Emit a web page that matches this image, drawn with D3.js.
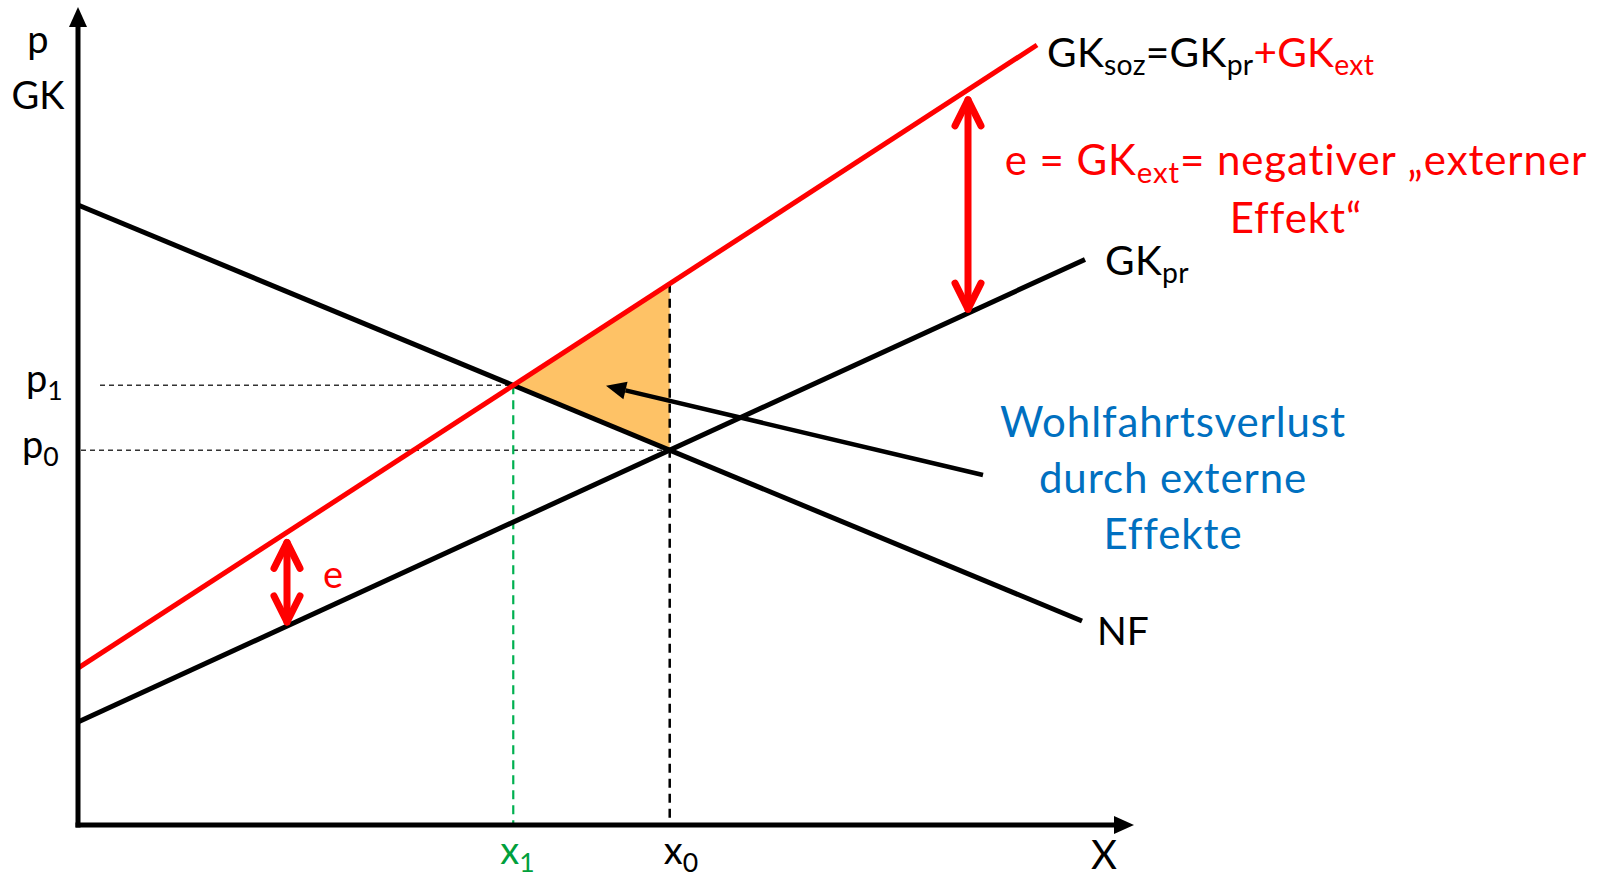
<!DOCTYPE html>
<html>
<head>
<meta charset="utf-8">
<script src="https://cdn.jsdelivr.net/npm/d3@7"></script>
<style>
  html, body { margin: 0; padding: 0; background: #ffffff; }
  svg { display: block; }
  text { font-family: Lato, "Open Sans", sans-serif; }
</style>
</head>
<body>
<svg id="chart" width="1602" height="878"></svg>
<script>
// ---- data (in abstract model units: quantity x, price/cost y) ----
const curveNames = ["NF", "GKpr", "GKsoz"];
const nfLine    = [[0, 77.5], [100.4, 25.5]];
const gkprLine  = [[0, 12.875], [100.7, 70.7]];
const gksozLine = [[0, 19.6], [95.9, 97.5]];
const externalityArrowX = [20.9, 89.0];   // positions of the red "e" arrows
const pointerTail = [90.5, 43.75];         // black arrow pointing into the welfare-loss area
const pointerTip  = [52.8, 54.9];
const yTickLabels = ["p1", "p0"];
const xTickLabels = ["x1", "x0"];

// ---- scales ----
const x = d3.scaleLinear().domain([0, 100]).range([78, 1078]);
const y = d3.scaleLinear().domain([0, 100]).range([825, 25]);

const svg = d3.select("#chart");

function lineAt(seg, xv) {
  const [[x0, y0], [x1, y1]] = seg;
  return y0 + (y1 - y0) * (xv - x0) / (x1 - x0);
}
function intersect(a, b) {
  const sa = (a[1][1] - a[0][1]) / (a[1][0] - a[0][0]);
  const sb = (b[1][1] - b[0][1]) / (b[1][0] - b[0][0]);
  const ia = a[0][1] - sa * a[0][0];
  const ib = b[0][1] - sb * b[0][0];
  const xv = (ib - ia) / (sa - sb);
  return [xv, ia + sa * xv];
}
const eq0 = intersect(nfLine, gkprLine);   // (x0, p0)
const eq1 = intersect(nfLine, gksozLine);  // (x1, p1)

const line = d3.line().x(d => x(d[0])).y(d => y(d[1]));

// ---- welfare loss triangle ----
svg.append("path")
  .attr("d", line([eq1, [eq0[0], lineAt(gksozLine, eq0[0])], eq0]) + "Z")
  .attr("fill", "#fec266");

// ---- dashed guide lines ----
svg.append("line")
  .attr("x1", 100).attr("x2", x(eq1[0])).attr("y1", y(eq1[1])).attr("y2", y(eq1[1]))
  .attr("stroke", "#333").attr("stroke-width", 1.5).attr("stroke-dasharray", "5,4");
svg.append("line")
  .attr("x1", x(0) + 3).attr("x2", x(eq0[0])).attr("y1", y(eq0[1])).attr("y2", y(eq0[1]))
  .attr("stroke", "#333").attr("stroke-width", 1.5).attr("stroke-dasharray", "5,4");
svg.append("line")
  .attr("x1", x(eq1[0])).attr("x2", x(eq1[0])).attr("y1", y(eq1[1])).attr("y2", y(0))
  .attr("stroke", "#00b050").attr("stroke-width", 2.2).attr("stroke-dasharray", "9,6");
svg.append("line")
  .attr("x1", x(eq0[0])).attr("x2", x(eq0[0])).attr("y1", y(lineAt(gksozLine, eq0[0]))).attr("y2", y(0))
  .attr("stroke", "#000").attr("stroke-width", 2.5).attr("stroke-dasharray", "9,6");

// ---- curves ----
svg.append("path").attr("d", line(nfLine)).attr("stroke", "#000").attr("stroke-width", 5).attr("fill", "none");
svg.append("path").attr("d", line(gkprLine)).attr("stroke", "#000").attr("stroke-width", 5).attr("fill", "none");
svg.append("path").attr("d", line(gksozLine)).attr("stroke", "#ff0000").attr("stroke-width", 5).attr("fill", "none");

// ---- axes ----
const ax = svg.append("g");
ax.append("line").attr("x1", x(0)).attr("x2", x(0)).attr("y1", y(0) + 2.5).attr("y2", 22)
  .attr("stroke", "#000").attr("stroke-width", 5);
ax.append("path").attr("d", `M${x(0)},7 L${x(0) - 9},27 L${x(0) + 9},27 Z`).attr("fill", "#000");
ax.append("line").attr("x1", x(0) - 2.5).attr("x2", 1118).attr("y1", y(0)).attr("y2", y(0))
  .attr("stroke", "#000").attr("stroke-width", 5);
ax.append("path").attr("d", `M1134,${y(0)} L1114,${y(0) - 9} L1114,${y(0) + 9} Z`).attr("fill", "#000");

// ---- red double arrows (externality e) ----
externalityArrowX.forEach(xv => {
  const px = x(xv);
  const top = y(lineAt(gksozLine, xv)) + 10;
  const bot = y(lineAt(gkprLine, xv)) - 4;
  const g = svg.append("g").attr("stroke", "#ff0000").attr("stroke-width", 7)
    .attr("stroke-linecap", "round").attr("stroke-linejoin", "round").attr("fill", "none");
  g.append("line").attr("x1", px).attr("x2", px).attr("y1", top).attr("y2", bot);
  g.append("path").attr("d", `M${px - 13},${top + 26} L${px},${top} L${px + 13},${top + 26}`);
  g.append("path").attr("d", `M${px - 13},${bot - 26} L${px},${bot} L${px + 13},${bot - 26}`);
});

// ---- black pointer arrow ----
{
  const tx = x(pointerTip[0]), ty = y(pointerTip[1]);
  const sx = x(pointerTail[0]), sy = y(pointerTail[1]);
  const ang = Math.atan2(ty - sy, tx - sx);
  const L = 20, W = 9;
  const bx = tx - L * Math.cos(ang), by = ty - L * Math.sin(ang);
  svg.append("line").attr("x1", sx).attr("y1", sy).attr("x2", bx).attr("y2", by)
    .attr("stroke", "#000").attr("stroke-width", 4.5);
  svg.append("path")
    .attr("d", `M${tx},${ty} L${bx + W * Math.sin(ang)},${by - W * Math.cos(ang)} L${bx - W * Math.sin(ang)},${by + W * Math.cos(ang)} Z`)
    .attr("fill", "#000");
}

// ---- text helpers ----
function richText(xp, yp, parts, size, anchor, spacing) {
  const t = svg.append("text").attr("x", xp).attr("y", yp).attr("font-size", size)
    .attr("text-anchor", anchor || "start");
  if (spacing) t.attr("letter-spacing", spacing);
  let shifted = 0;
  parts.forEach(p => {
    const ts = t.append("tspan").text(p.t).attr("fill", p.c || "#000");
    const want = p.sub ? size * 0.2 : 0;
    if (want !== shifted) { ts.attr("dy", want - shifted); shifted = want; }
    if (p.sub) ts.attr("font-size", size * 0.7);
  });
  return t;
}

const FS = 38;      // axis labels
const FL = 40.5;    // curve labels
const FT = 42;      // explanatory texts
const LS = 0.9;
// axis titles
svg.append("text").attr("x", 38).attr("y", 53).attr("font-size", FS).attr("text-anchor", "middle").text("p");
svg.append("text").attr("x", 38).attr("y", 109).attr("font-size", FS).attr("text-anchor", "middle").text("GK");
svg.append("text").attr("x", 1104).attr("y", 869).attr("font-size", FS + 2).attr("text-anchor", "middle").text("X");

// price tick labels
richText(26, y(eq1[1]) + 7, [{t: yTickLabels[0][0]}, {t: yTickLabels[0][1], sub: true}], FS);
richText(22, y(eq0[1]) + 8, [{t: yTickLabels[1][0]}, {t: yTickLabels[1][1], sub: true}], FS);
// quantity tick labels
richText(x(eq1[0]) - 13, 864, [{t: xTickLabels[0][0], c: "#00a03c"}, {t: xTickLabels[0][1], sub: true, c: "#00a03c"}], FS);
richText(x(eq0[0]) - 6, 864, [{t: xTickLabels[1][0]}, {t: xTickLabels[1][1], sub: true}], FS);

// curve labels
richText(1047, 67, [
  {t: "GK"}, {t: "soz", sub: true}, {t: "=GK"}, {t: "pr", sub: true},
  {t: "+GK", c: "#ff0000"}, {t: "ext", sub: true, c: "#ff0000"}
], FL, "start", 0.3);
richText(1105, 275, [{t: "GK"}, {t: "pr", sub: true}], FL, "start", 0.3);
svg.append("text").attr("x", 1097).attr("y", 645).attr("font-size", FS + 1).text(curveNames[0]);

// red explanation
richText(1296, 175, [
  {t: "e = GK", c: "#ff0000"}, {t: "ext", sub: true, c: "#ff0000"}, {t: "= negativer „externer", c: "#ff0000"}
], FT, "middle", LS);
svg.append("text").attr("x", 1296).attr("y", 233).attr("font-size", FT).attr("text-anchor", "middle")
  .attr("letter-spacing", LS).attr("fill", "#ff0000").text("Effekt“");
svg.append("text").attr("x", 333).attr("y", 588).attr("font-size", FS).attr("text-anchor", "middle")
  .attr("fill", "#ff0000").text("e");

// blue explanation
const blue = ["Wohlfahrtsverlust", "durch externe", "Effekte"];
blue.forEach((s, i) => {
  svg.append("text").attr("x", 1173).attr("y", 437 + i * 56).attr("font-size", FT)
    .attr("letter-spacing", LS).attr("text-anchor", "middle").attr("fill", "#0070c0").text(s);
});
</script>
</body>
</html>
